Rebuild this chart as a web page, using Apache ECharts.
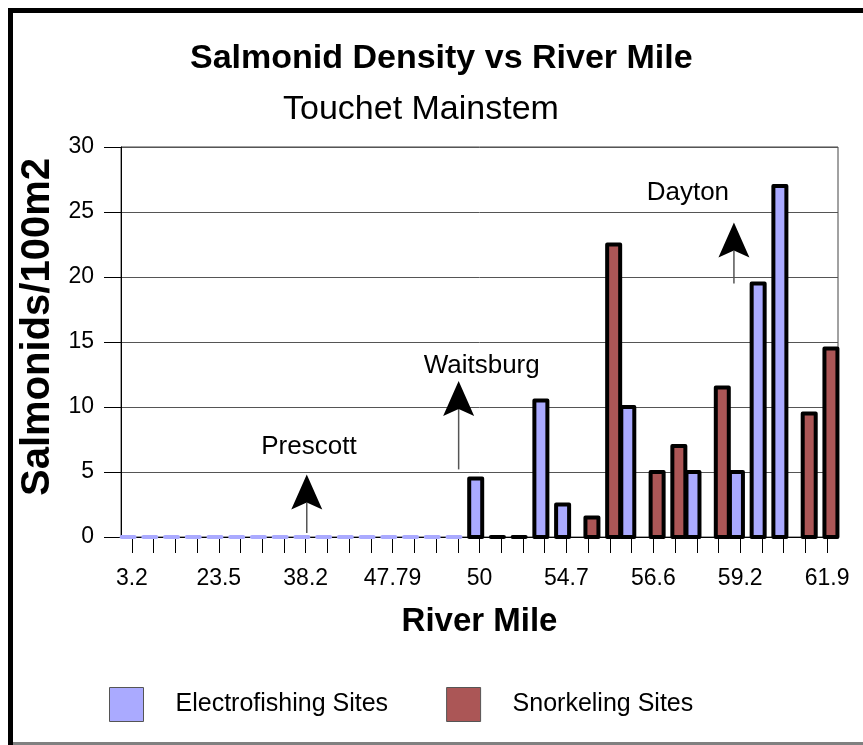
<!DOCTYPE html>
<html>
<head>
<meta charset="utf-8">
<script src="https://cdn.jsdelivr.net/npm/echarts@6/dist/echarts.min.js"></script>
<style>
  html, body { margin: 0; padding: 0; background: #fff; }
  #chart { width: 863px; height: 745px; }
</style>
</head>
<body>
<div id="chart"></div>
<script>
  // river mile per site (only every 4th label is printed on the axis)
  const categories = ['3.2', '', '', '', '23.5', '', '', '', '38.2', '', '', '', '47.79', '', '', '',
    '50', '', '', '', '54.7', '', '', '', '56.6', '', '', '', '59.2', '', '', '', '61.9'];

  // salmonids / 100m2
  const electro = [0, 0, 0, 0, 0, 0, 0, 0, 0, 0, 0, 0, 0, 0, 0, 0,
    4.5, 0, 0, 10.5, 2.5, null, null, 10, null, null, 5, null, 5, 19.5, 27, null, null];
  const snorkel = [null, null, null, null, null, null, null, null, null, null, null, null, null, null, null, null,
    null, null, null, null, null, 1.5, 22.5, null, 5, 7, null, 11.5, null, null, null, 9.5, 14.5];

  // town markers (x in site index units, y in axis units)
  const towns = ['Prescott', 'Waitsburg', 'Dayton'];
  const arrowX = [8.05, 15.04, 27.71];
  const arrowFrom = [0.3, 5.2, 19.5];
  const arrowTip = [4.8, 12.0, 24.2];
  const townLabelX = [8.15, 16.1, 25.59];
  const townLabelY = [6.9, 13.2, 26.5];

  const FONT = '"Liberation Sans", Arial, sans-serif';
  const BLUE = '#aaaaff';
  const RED = '#ab5656';
  const FAINT_SITES = 16; // early sites with no fish, drawn as faint dashes

  const toPairs = arr => arr.map((v, i) => [i, v]).filter(d => d[1] != null);
  const townData = towns.map((name, i) => [arrowX[i], arrowFrom[i], arrowTip[i], townLabelX[i], townLabelY[i], name]);

  // Excel-like overlapping column pair: fixed width, thick black outline
  function columnRenderer(offset, fill) {
    return function (params, api) {
      const idx = api.value(0);
      const top = api.coord([idx, api.value(1)]);
      const zero = api.coord([idx, 0]);
      const faint = fill === BLUE && idx < FAINT_SITES && api.value(1) === 0;
      return {
        type: 'rect',
        shape: { x: top[0] + offset - 6.5, y: top[1], width: 13, height: zero[1] - top[1] },
        style: { fill: fill, stroke: faint ? BLUE : '#000', lineWidth: 4, lineJoin: 'round' }
      };
    };
  }

  let myChart = echarts.init(document.getElementById('chart'));
  myChart.setOption({
    backgroundColor: '#fff',
    animation: false,
    title: [
      { text: 'Salmonid Density vs River Mile', left: 185, top: 37,
        textStyle: { fontFamily: FONT, fontSize: 34, fontWeight: 'bold', color: '#000' } },
      { text: 'Touchet Mainstem', left: 278, top: 88,
        textStyle: { fontFamily: FONT, fontSize: 34, fontWeight: 'normal', color: '#000' } }
    ],
    legend: {
      left: 104, top: 682,
      itemWidth: 34, itemHeight: 34, itemGap: 58,
      icon: 'rect',
      itemStyle: { borderWidth: 1, borderColor: '#555' },
      textStyle: { fontFamily: FONT, fontSize: 25, color: '#000', padding: [0, 0, 0, 27] },
      data: ['Electrofishing Sites', 'Snorkeling Sites']
    },
    grid: {
      left: 121, right: 25, top: 147, bottom: 208,
      show: true, borderColor: '#444', borderWidth: 1, backgroundColor: 'transparent'
    },
    xAxis: [
      {
        type: 'category',
        data: categories,
        name: 'River Mile',
        nameLocation: 'middle',
        nameGap: 68,
        nameTextStyle: { fontFamily: FONT, fontSize: 33, fontWeight: 'bold', color: '#000' },
        axisLine: { lineStyle: { color: '#000', width: 1 } },
        axisTick: { show: true, interval: 0, alignWithLabel: true, length: 16, lineStyle: { color: '#000' } },
        axisLabel: { interval: 3, margin: 30, fontFamily: FONT, fontSize: 23, color: '#000' },
        splitLine: { show: false }
      },
      {
        // helper scale for the town markers
        type: 'value', min: -0.5, max: 32.5, show: false
      }
    ],
    yAxis: {
      type: 'value',
      min: 0, max: 30, interval: 5,
      name: 'Salmonids/100m2',
      nameLocation: 'middle',
      nameGap: 50,
      nameTextStyle: { fontFamily: FONT, fontSize: 40, fontWeight: 'bold', color: '#000', padding: [0, 0, 0, 30] },
      axisLine: { show: true, onZero: false, lineStyle: { color: '#000', width: 1 } },
      axisTick: { show: true, length: 17, lineStyle: { color: '#000' } },
      axisLabel: { margin: 27, fontFamily: FONT, fontSize: 23, color: '#000' },
      splitLine: { show: true, lineStyle: { color: '#555', width: 1 } }
    },
    series: [
      {
        name: 'Electrofishing Sites',
        type: 'custom',
        data: toPairs(electro),
        itemStyle: { color: BLUE },
        renderItem: columnRenderer(-3.8, BLUE)
      },
      {
        name: 'Snorkeling Sites',
        type: 'custom',
        data: toPairs(snorkel),
        itemStyle: { color: RED },
        renderItem: columnRenderer(3.8, RED)
      },
      {
        name: 'towns',
        type: 'custom',
        xAxisIndex: 1,
        silent: true,
        z: 5,
        data: townData,
        renderItem: function (params, api) {
          const base = api.coord([api.value(0), api.value(1)]);
          const tip = api.coord([api.value(0), api.value(2)]);
          const lab = api.coord([api.value(3), api.value(4)]);
          const x = tip[0];
          const ty = tip[1];
          return {
            type: 'group',
            children: [
              { type: 'line', shape: { x1: x, y1: base[1], x2: x, y2: ty + 28 },
                style: { stroke: '#555', lineWidth: 1.5 } },
              { type: 'polygon',
                shape: { points: [[x, ty], [x + 15.5, ty + 35], [x, ty + 28], [x - 15.5, ty + 35]] },
                style: { fill: '#000' } },
              { type: 'text', x: lab[0], y: lab[1],
                style: { text: api.value(5), fontFamily: FONT, fontSize: 26, fill: '#000',
                  align: 'center', verticalAlign: 'middle' } }
            ]
          };
        }
      }
    ],
    graphic: [
      { type: 'rect', shape: { x: 8, y: 8, width: 5, height: 737 }, style: { fill: '#000' } },
      { type: 'rect', shape: { x: 8, y: 8, width: 855, height: 5 }, style: { fill: '#000' } },
      { type: 'rect', shape: { x: 13, y: 742, width: 850, height: 3 }, style: { fill: '#808080' } }
    ]
  });
</script>
</body>
</html>
